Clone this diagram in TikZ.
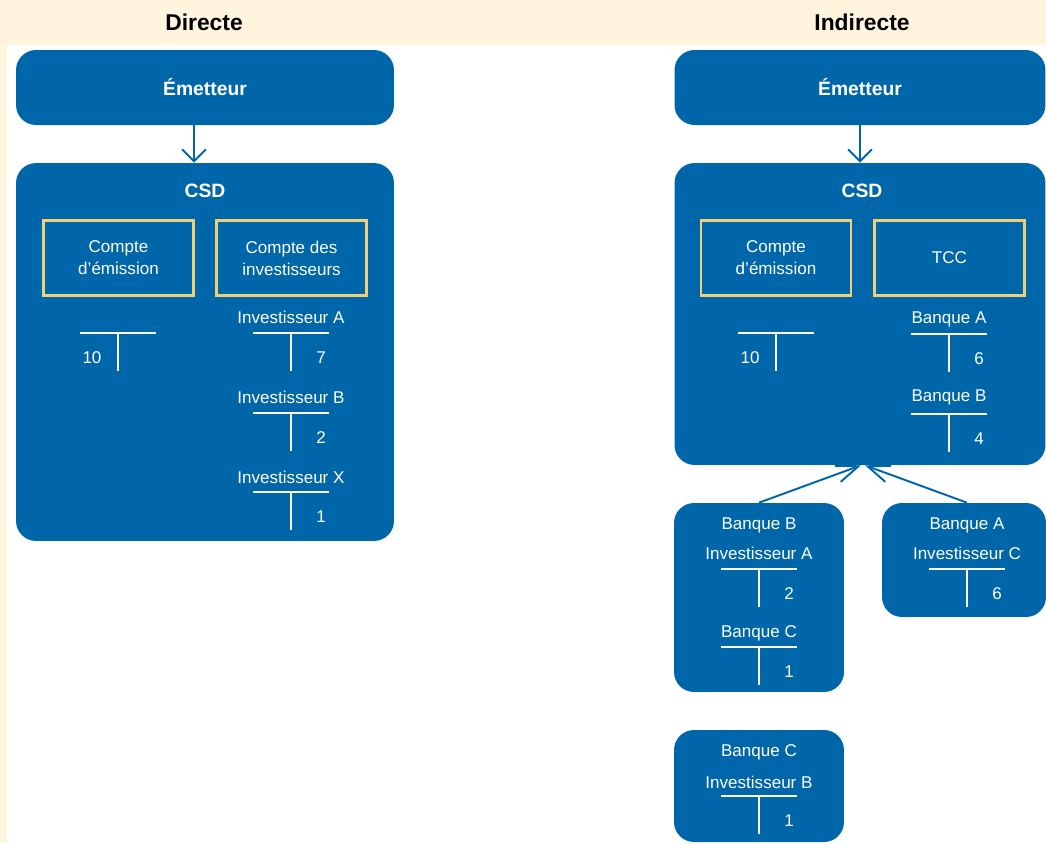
\documentclass[tikz,border=0pt]{standalone}
\usepackage{fontspec}
\setmainfont{Liberation Sans}
\usetikzlibrary{arrows.meta}

\definecolor{snbblue}{RGB}{0,102,170}
\definecolor{snbcream}{RGB}{255,245,222}
\definecolor{snbgold}{RGB}{240,207,120}

\tikzstyle{entity} = [rectangle, rounded corners=0.4cm, fill=snbblue, draw=none, text=white, inner sep=0pt]
\tikzstyle{title} = [text=white, font=\fontsize{11}{13}\selectfont\bfseries]
\tikzstyle{account} = [rectangle, draw=snbgold, line width=1.4pt, text=white, align=center, minimum width=3.0cm, minimum height=1.5cm, font=\fontsize{9.7}{12.5}\selectfont]
\tikzstyle{label} = [text=white, font=\fontsize{9.7}{12}\selectfont, inner sep=0pt]
\tikzstyle{head} = [font=\fontsize{13}{15}\selectfont\bfseries, text=black]
\tikzstyle{arrow} = [draw=snbblue, line width=1.1pt, -{Straight Barb[length=0.24cm, width=0.48cm, line width=1.1pt]}]
\tikzstyle{slant} = [-{Straight Barb[length=0.44cm, width=0.34cm, line width=1.1pt]}]

% T-account: x, y of top line, left amount, right amount
\newcommand{\tacct}[4]{%
  \draw[white, line width=1.2pt] ({#1-38},#2) -- ({#1+38},#2) (#1,#2) -- (#1,{#2+38});
  \node[label] at ({#1-26},{#2+25}) {#3};
  \node[label] at ({#1+30},{#2+25}) {#4};
}

\begin{document}
\begin{tikzpicture}[x=0.02cm, y=-0.02cm]
		\useasboundingbox (0,0) rectangle (1046,843);
		% Background
		\fill[snbcream] (0,0) rectangle (1046,45);
		\fill[snbcream] (0,45) rectangle (7,843);
		\node[head] at (204,22) {Directe};
		\node[head] at (862,22) {Indirecte};
		% Nodes - direct
		\node (emitterD) [entity, minimum width=7.56cm, minimum height=1.5cm, title] at (205,87.5) {Émetteur};
		\node (csdD) [entity, minimum width=7.56cm, minimum height=7.56cm] at (205,352) {};
		\node [title] at (205,191) {CSD};
		\node (emissionD) [account] at (118.5,258) {Compte\\d’émission};
		\node (investD) [account] at (291.5,258) {Compte des\\investisseurs};
		\tacct{118}{333}{10}{}
		\node[label] at (291,317) {Investisseur A};
		\tacct{291}{333}{}{7}
		\node[label] at (291,397) {Investisseur B};
		\tacct{291}{413}{}{2}
		\node[label] at (291,477) {Investisseur X};
		\tacct{291}{492}{}{1}
		% Nodes - indirect
		\node (emitterI) [entity, minimum width=7.42cm, minimum height=1.5cm, title] at (860,87.5) {Émetteur};
		\node (csdI) [entity, minimum width=7.42cm, minimum height=6.04cm] at (860,314) {};
		\node [title] at (862,191) {CSD};
		\node (emissionI) [account] at (776,258) {Compte\\d’émission};
		\node (tcc) [account] at (949.5,258) {TCC};
		\tacct{776}{333}{10}{}
		\node[label] at (949,319) {Banque A};
		\tacct{949}{334}{}{6}
		\node[label] at (949,397) {Banque B};
		\tacct{949}{414}{}{4}
		\node (bankB) [entity, minimum width=3.4cm, minimum height=3.78cm] at (759,597.5) {};
		\node[label] at (759,525) {Banque B};
		\node[label] at (759,553) {Investisseur A};
		\tacct{759}{569}{}{2}
		\node[label] at (759,633) {Banque C};
		\tacct{759}{647}{}{1}
		\node (bankA) [entity, minimum width=3.28cm, minimum height=2.28cm] at (964,560) {};
		\node[label] at (967,525) {Banque A};
		\node[label] at (967,553) {Investisseur C};
		\tacct{967}{569}{}{6}
		\node (bankC) [entity, minimum width=3.4cm, minimum height=2.24cm] at (759,786) {};
		\node[label] at (759,752) {Banque C};
		\node[label] at (759,782) {Investisseur B};
		\tacct{759}{796}{}{1}
		% Arrows
		\draw [arrow] ([xshift=-0.22cm]emitterD.south) -- ([xshift=-0.22cm]csdD.north);
		\draw [arrow] (emitterI.south) -- (csdI.north);
		\draw [arrow, slant] (bankB.north) -- ([xshift=0.02cm]csdI.south);
		\draw [arrow, slant] ([xshift=0.06cm]bankA.north) -- ([xshift=0.1cm]csdI.south);
	\end{tikzpicture}
\end{document}
